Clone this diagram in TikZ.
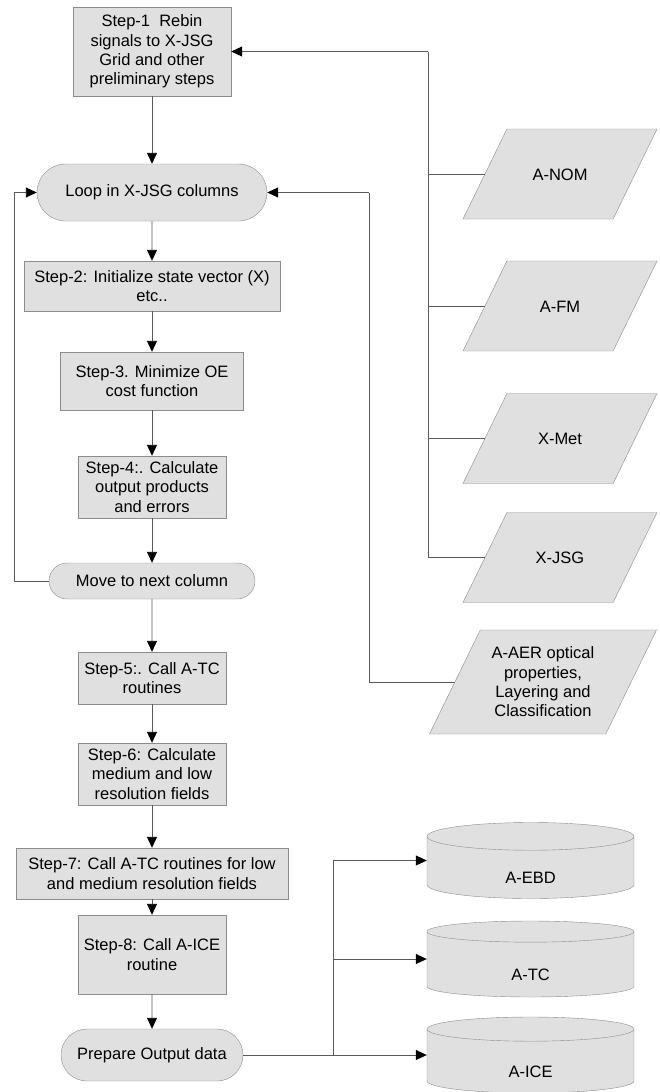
\documentclass[tikz,border=0pt]{standalone}
\usepackage{fontspec}
\setmainfont{Liberation Sans}
\usepackage{tikz}
\usetikzlibrary{shapes.misc,shapes.geometric,arrows.meta}
\tikzset{
  stepbox/.style  = {shape=rectangle, draw=black!45, fill=black!12,
                     align=center, inner sep=0pt,
                     font=\fontsize{16.5}{19.3}\selectfont},
  termbox/.style  = {stepbox, shape=rounded rectangle},
  inbox/.style    = {stepbox, shape=trapezium, trapezium left angle=64,
                     trapezium right angle=116, trapezium stretches body,
                     minimum width=194, text height=12, text depth=0,
                     inner ysep=39},
  storebox/.style = {stepbox, shape=cylinder, shape border rotate=90,
                     aspect=0.55, minimum width=207, minimum height=76,
                     text height=32.5, text depth=-20.5, anchor=shape center},
  link/.style     = {draw=black!65, line width=0.9pt},
  arrow/.style    = {link, -{Triangle[length=11pt,width=10pt,color=black]}}
}

\begin{document}
\begin{tikzpicture}[x=1pt,y=-1pt]
 \useasboundingbox (0,0) rectangle (659,1092);

 % main column
 \node[stepbox, minimum width=158, minimum height=89] (step1) at (152,51.5)
   {Step-1~ Rebin\\signals to X-JSG\\Grid and other\\preliminary steps};
 \node[termbox, minimum width=230, minimum height=57] (loop) at (152,192.5)
   {Loop in X-JSG columns};
 \node[stepbox, minimum width=256, minimum height=50] (step2) at (152,286)
   {Step-2: Initialize state vector (X)\\etc..};
 \node[stepbox, minimum width=183, minimum height=58] (step3) at (152,381)
   {Step-3. Minimize OE\\cost function};
 \node[stepbox, minimum width=148, minimum height=62] (step4) at (152,487)
   {Step-4:. Calculate\\output products\\and errors};
 \node[termbox, minimum width=206, minimum height=36] (move) at (152,581)
   {Move to next column};
 \node[stepbox, minimum width=148, minimum height=52] (step5) at (152,678)
   {Step-5:. Call A-TC\\routines};
 \node[stepbox, minimum width=148, minimum height=62] (step6) at (152,774)
   {Step-6: Calculate\\medium and low\\resolution fields};
 \node[stepbox, minimum width=272, minimum height=51] (step7) at (152,873.5)
   {Step-7: Call A-TC routines for low\\and medium resolution fields};
 \node[stepbox, minimum width=148, minimum height=79] (step8) at (152,954.5)
   {Step-8: Call A-ICE\\routine};
 \node[termbox, minimum width=182, minimum height=52] (prep) at (152,1055)
   {Prepare Output data};

 % inputs
 \node[inbox] (anom) at (560,174) {A-NOM};
 \node[inbox] (afm)  at (560,306) {A-FM};
 \node[inbox] (xmet) at (560,438.5) {X-Met};
 \node[inbox] (xjsg) at (560,557.5) {X-JSG};
 \node[inbox, minimum width=227, text height=, text depth=, inner ysep=17]
   (aaer) at (543,682)
   {A-AER optical\\properties,\\Layering and\\Classification};

 % outputs
 \node[storebox] (ebd) at (530.5,860.5) {A-EBD};
 \node[storebox] (tc)  at (530.5,959) {A-TC};
 \node[storebox] (ice) at (530.5,1055) {A-ICE};

 \coordinate (bus1) at (428,51.5);
 \coordinate (bus2) at (369,192.5);
 \coordinate (back) at (14,192.5);
 \coordinate (obus) at (333,1055);

 \draw[arrow] (step1) -- (loop);
 \draw[arrow] (loop) -- (step2);
 \draw[arrow] (step2) -- (step3);
 \draw[arrow] (step3) -- (step4);
 \draw[arrow] (step4) -- (move);
 \draw[arrow] (move) -- (step5);
 \draw[arrow] (step5) -- (step6);
 \draw[arrow] (step6) -- (step7);
 \draw[arrow] (step7) -- (step8);
 \draw[arrow] (step8) -- (prep);

 \draw[arrow] (move.west) -| (back) -- (loop.west);

 \draw[link] (xjsg.west) -| (bus1);
 \draw[arrow] (bus1) -- (step1.east);
 \draw[link] (anom.west) -- (anom.west -| bus1);
 \draw[link] (afm.west) -- (afm.west -| bus1);
 \draw[link] (xmet.west) -- (xmet.west -| bus1);

 \draw[link] (aaer.west) -| (bus2);
 \draw[arrow] (bus2) -- (loop.east);

 \draw[link] (prep.east) -- (obus);
 \draw[arrow] (obus) |- (ebd.shape center -| ebd.west);
 \draw[arrow] (obus) |- (tc.shape center -| tc.west);
 \draw[arrow] (obus) -- (ice.shape center -| ice.west);
\end{tikzpicture}
\end{document}
